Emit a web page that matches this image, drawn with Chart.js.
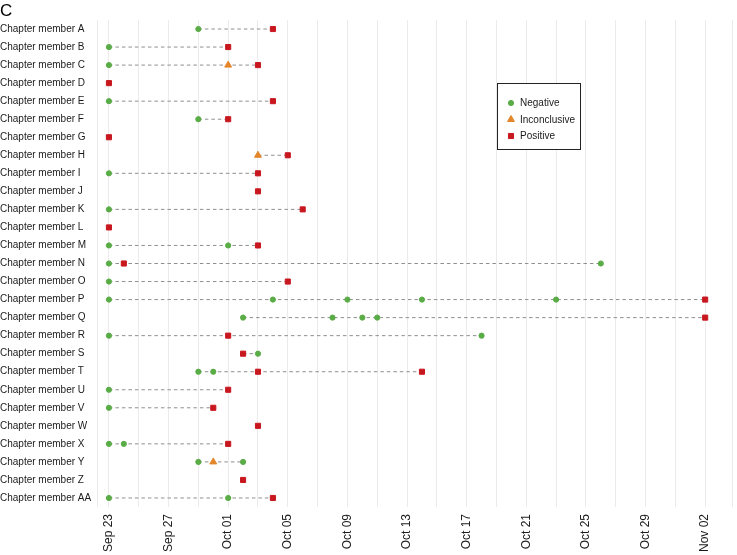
<!DOCTYPE html>
<html>
<head>
<meta charset="utf-8">
<script src="https://cdn.jsdelivr.net/npm/chart.js@4"></script>
<style>
    html, body { margin: 0; padding: 0; background: #fff; }
    #wrap { width: 737px; height: 555px; }
</style>
</head>
<body>
<div id="wrap"><canvas id="chart"></canvas></div>
<script>
// one entry per chapter member, dates are month-day (2020)
const members = ["A", "B", "C", "D", "E", "F", "G", "H", "I", "J", "K", "L", "M", "N",
    "O", "P", "Q", "R", "S", "T", "U", "V", "W", "X", "Y", "Z", "AA"];

const negativeDates = [
    ["09-29"], ["09-23"], ["09-23"], [], ["09-23"], ["09-29"], [], [], ["09-23"], [],
    ["09-23"], [], ["09-23", "10-01"], ["09-23", "10-26"], ["09-23"],
    ["09-23", "10-04", "10-09", "10-14", "10-23"], ["10-02", "10-08", "10-10", "10-11"],
    ["09-23", "10-18"], ["10-03"], ["09-29", "09-30"], ["09-23"], ["09-23"], [],
    ["09-23", "09-24"], ["09-29", "10-02"], [], ["09-23", "10-01"],
];

const inconclusiveDates = [
    [], [], ["10-01"], [], [], [], [], ["10-03"], [], [], [], [], [], [], [], [], [], [],
    [], [], [], [], [], [], ["09-30"], [], [],
];

const positiveDates = [
    ["10-04"], ["10-01"], ["10-03"], ["09-23"], ["10-04"], ["10-01"], ["09-23"], ["10-05"],
    ["10-03"], ["10-03"], ["10-06"], ["09-23"], ["10-03"], ["09-24"], ["10-05"], ["11-02"],
    ["11-02"], ["10-01"], ["10-02"], ["10-03", "10-14"], ["10-01"], ["09-30"], ["10-03"],
    ["10-01"], [], ["10-02"], ["10-04"],
];

const firstDay = "09-23";
const lastDay = "11-02";
const monthNames = ["Jan", "Feb", "Mar", "Apr", "May", "Jun", "Jul", "Aug", "Sep", "Oct", "Nov", "Dec"];

const GREEN = "#5aac47";
const ORANGE = "#e3862a";
const RED = "#c8171f";

function dayIndex(md) {
    const [m, d] = md.split("-").map(Number);
    const [m0, d0] = firstDay.split("-").map(Number);
    return Math.round((Date.UTC(2020, m - 1, d) - Date.UTC(2020, m0 - 1, d0)) / 86400000);
}

function dayLabel(i) {
    const [m0, d0] = firstDay.split("-").map(Number);
    const dt = new Date(Date.UTC(2020, m0 - 1, d0 + i));
    return monthNames[dt.getUTCMonth()] + " " + String(dt.getUTCDate()).padStart(2, "0");
}

const labels = members.map(m => "Chapter member " + m);
const nDays = dayIndex(lastDay);

function points(list) {
    const out = [];
    list.forEach((dates, i) => dates.forEach(d => out.push({x: dayIndex(d), y: labels[i]})));
    return out;
}

// dashed connectors, one per member
const lineSets = labels.map((lab, i) => {
    const xs = [...negativeDates[i], ...inconclusiveDates[i], ...positiveDates[i]].map(dayIndex);
    if (xs.length < 2) return null;
    return {
        type: "line",
        data: [{x: Math.min(...xs), y: lab}, {x: Math.max(...xs), y: lab}],
        borderColor: "#8f8f8f",
        borderWidth: 1,
        borderDash: [3.5, 3],
        pointRadius: 0,
        order: 5,
    };
}).filter(Boolean);

const markerSets = [
    {label: "Negative", data: points(negativeDates), pointStyle: "circle", pointRadius: 2.6,
        backgroundColor: GREEN, borderColor: GREEN, borderWidth: 1, order: 3},
    {label: "Inconclusive", data: points(inconclusiveDates), pointStyle: "triangle", pointRadius: 4,
        backgroundColor: ORANGE, borderColor: ORANGE, borderWidth: 1, order: 2},
    {label: "Positive", data: points(positiveDates), pointStyle: "rect", pointRadius: 3.6,
        backgroundColor: RED, borderColor: RED, borderWidth: 1, order: 1},
];

const boxLegend = {
    id: "boxLegend",
    afterDraw(chart) {
        const ctx = chart.ctx;
        ctx.save();
        ctx.strokeStyle = "#222";
        ctx.lineWidth = 1;
        ctx.fillStyle = "#fff";
        ctx.fillRect(497.5, 83.5, 83, 66);
        ctx.strokeRect(497.5, 83.5, 83, 66);
        markerSets.forEach((ds, i) => {
            const y = 103 + i * 16.5;
            ctx.fillStyle = ds.backgroundColor;
            ctx.strokeStyle = ds.borderColor;
            Chart.helpers.drawPoint(ctx, {pointStyle: ds.pointStyle, radius: ds.pointRadius, rotation: 0, borderWidth: 1}, 511, y);
            ctx.fillStyle = "#1a1a1a";
            ctx.font = "10px 'Liberation Sans', Arial, sans-serif";
            ctx.textBaseline = "middle";
            ctx.textAlign = "left";
            ctx.fillText(ds.label, 520, y + 0.5);
        });
        ctx.restore();
    }
};

const panelTag = {
    id: "panelTag",
    afterDraw(chart) {
        const ctx = chart.ctx;
        ctx.save();
        ctx.fillStyle = "#000";
        ctx.font = "17px 'Liberation Sans', Arial, sans-serif";
        ctx.textBaseline = "alphabetic";
        ctx.fillText("C", 0, 16);
        ctx.restore();
    }
};

Chart.defaults.font.family = "'Liberation Sans', Arial, sans-serif";
Chart.defaults.color = "#1a1a1a";

new Chart(document.getElementById("chart"), {
    type: "scatter",
    data: {labels: labels, datasets: [...lineSets, ...markerSets]},
    options: {
        responsive: true,
        maintainAspectRatio: false,
        animation: false,
        layout: {padding: {top: 20, right: 4, left: 0, bottom: 0}},
        plugins: {legend: {display: false}, tooltip: {enabled: false}},
        scales: {
            x: {
                type: "linear",
                min: -0.8,
                max: nDays + 1.8,
                afterBuildTicks(axis) {
                    const t = [{value: -0.8}];
                    for (let d = 0; d <= nDays; d += 2) t.push({value: d});
                    t.push({value: nDays + 1.8});
                    axis.ticks = t;
                },
                afterFit(axis) {
                    axis.height = 48;
                    axis.paddingLeft = 0;
                    axis.paddingRight = 0;
                },
                ticks: {
                    autoSkip: false,
                    minRotation: 90,
                    maxRotation: 90,
                    padding: 7,
                    font: {size: 12},
                    callback: v => (Number.isInteger(v) && v % 4 === 0) ? dayLabel(v) : "",
                },
                grid: {color: "#ebebeb", lineWidth: 1, drawTicks: false},
                border: {display: false},
            },
            y: {
                type: "category",
                labels: labels,
                offset: true,
                afterFit(axis) {
                    axis.width = 97;
                    axis.paddingTop = 0;
                    axis.paddingBottom = 0;
                },
                ticks: {crossAlign: "far", font: {size: 10}, autoSkip: false, padding: 4},
                grid: {display: false, drawTicks: false},
                border: {display: false},
            }
        }
    },
    plugins: [boxLegend, panelTag]
});
</script>
</body>
</html>
